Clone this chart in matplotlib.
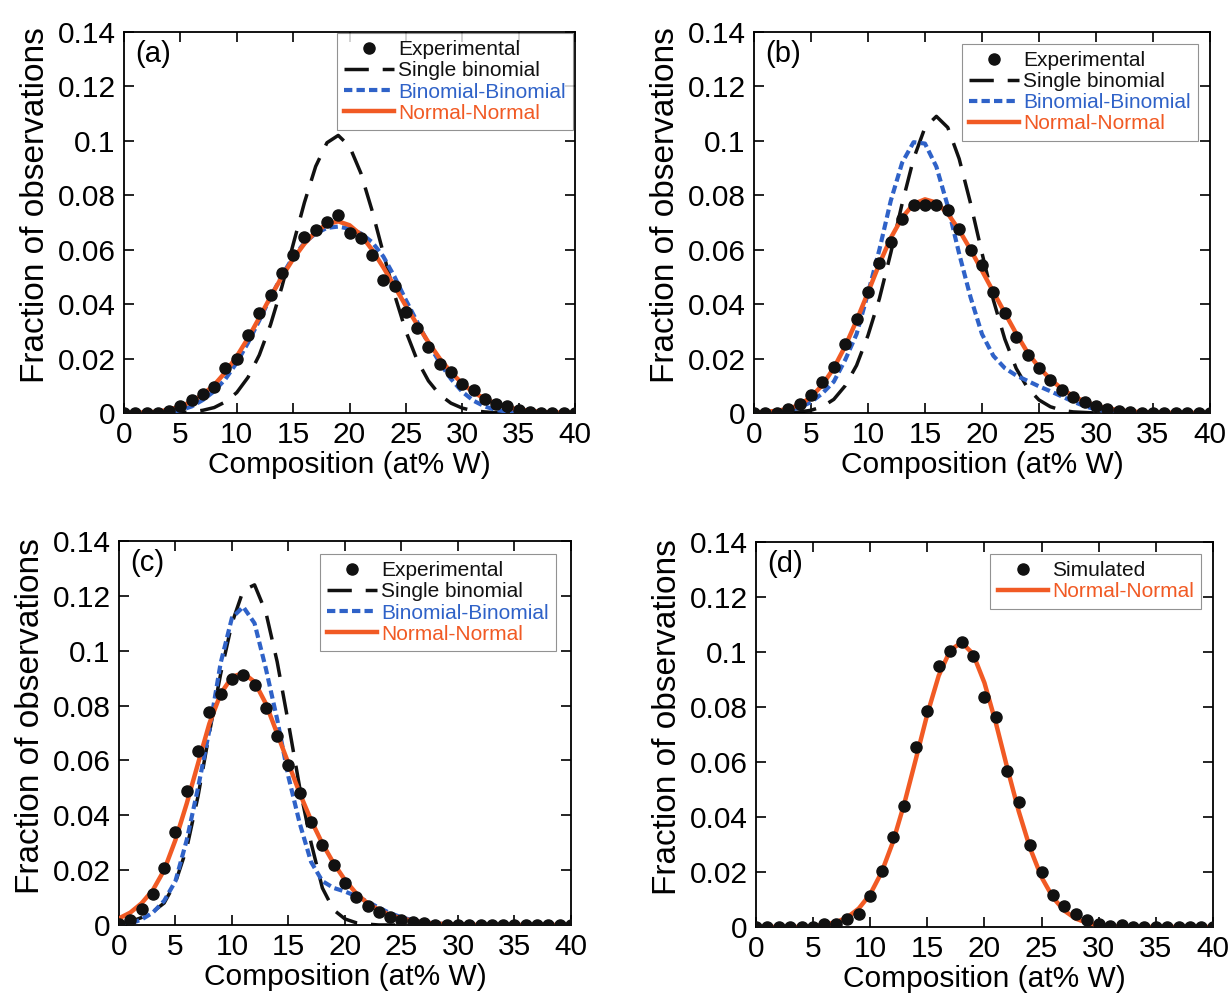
import matplotlib
matplotlib.use('Agg')
import matplotlib.pyplot as plt

plt.rcParams['font.family'] = ['Liberation Sans', 'DejaVu Sans']

comp = list(range(41))

# panel (a)
exp_a = [0, 0, 0, 0, 0.0006, 0.0024, 0.0048, 0.0070, 0.0097, 0.0164,
         0.0197, 0.0286, 0.0368, 0.0433, 0.0513, 0.0582, 0.0647, 0.0672, 0.0702, 0.0727,
         0.0663, 0.0643, 0.0580, 0.0490, 0.0466, 0.0372, 0.0311, 0.0243, 0.0181, 0.0149,
         0.0108, 0.0083, 0.0053, 0.0034, 0.0024, 0.0012, 0.0005, 0, 0, 0, 0]
sb_a = [0, 0, 0, 0, 0, 0.0002, 0.0004, 0.0010, 0.0020, 0.0041,
        0.0075, 0.0131, 0.0213, 0.0325, 0.0463, 0.0619, 0.0773, 0.0906, 0.0993, 0.1020,
        0.0980, 0.0882, 0.0744, 0.0587, 0.0434, 0.0300, 0.0194, 0.0118, 0.0067, 0.0036,
        0.0018, 0.0008, 0.0004, 0.0001, 0, 0, 0, 0, 0, 0, 0]
bb_a = [0, 0, 0, 0, 0.0003, 0.0010, 0.0024, 0.0048, 0.0080, 0.0125,
        0.0185, 0.0258, 0.0340, 0.0425, 0.0505, 0.0573, 0.0625, 0.0660, 0.0680, 0.0685,
        0.0677, 0.0660, 0.0628, 0.0575, 0.0500, 0.0415, 0.0335, 0.0255, 0.0185, 0.0125,
        0.0078, 0.0045, 0.0024, 0.0011, 0.0005, 0.0002, 0, 0, 0, 0, 0]
nn_a = [0, 0.0001, 0.0002, 0.0005, 0.0012, 0.0024, 0.0042, 0.0068, 0.0103, 0.0150,
        0.0208, 0.0275, 0.0350, 0.0427, 0.0500, 0.0566, 0.0622, 0.0666, 0.0694, 0.0704,
        0.0690, 0.0655, 0.0600, 0.0535, 0.0465, 0.0393, 0.0325, 0.0260, 0.0200, 0.0150,
        0.0108, 0.0076, 0.0052, 0.0034, 0.0021, 0.0013, 0.0008, 0.0004, 0.0002, 0.0001, 0]

# panel (b)
exp_b = [0, 0, 0, 0.0013, 0.0032, 0.0065, 0.0114, 0.0169, 0.0253, 0.0345,
         0.0443, 0.0550, 0.0630, 0.0712, 0.0763, 0.0763, 0.0763, 0.0746, 0.0676, 0.0599,
         0.0544, 0.0445, 0.0366, 0.0280, 0.0212, 0.0167, 0.0120, 0.0083, 0.0059, 0.0040,
         0.0025, 0.0015, 0.0007, 0.0004, 0, 0, 0, 0, 0, 0, 0]
sb_b = [0, 0, 0, 0, 0.0004, 0.0010, 0.0023, 0.0050, 0.0100, 0.0175,
        0.0285, 0.0420, 0.0588, 0.0770, 0.0934, 0.1049, 0.1090, 0.1049, 0.0934, 0.0770,
        0.0588, 0.0415, 0.0272, 0.0164, 0.0092, 0.0048, 0.0023, 0.0010, 0.0004, 0.0002,
        0, 0, 0, 0, 0, 0, 0, 0, 0, 0, 0]
bb_b = [0, 0.0002, 0.0004, 0.0009, 0.0020, 0.0040, 0.0072, 0.0115, 0.0195, 0.0290,
        0.0440, 0.0600, 0.0780, 0.0920, 0.0995, 0.0990, 0.0905, 0.0760, 0.0585, 0.0425,
        0.0290, 0.0210, 0.0165, 0.0138, 0.0118, 0.0098, 0.0080, 0.0061, 0.0042, 0.0025,
        0.0013, 0.0006, 0.0003, 0.0001, 0, 0, 0, 0, 0, 0, 0]
nn_b = [0.0002, 0.0004, 0.0008, 0.0015, 0.0030, 0.0058, 0.0103, 0.0165, 0.0245, 0.0340,
        0.0443, 0.0548, 0.0643, 0.0718, 0.0768, 0.0785, 0.0773, 0.0733, 0.0672, 0.0600,
        0.0523, 0.0445, 0.0368, 0.0292, 0.0222, 0.0168, 0.0124, 0.0089, 0.0062, 0.0042,
        0.0027, 0.0017, 0.0010, 0.0006, 0.0003, 0.0002, 0.0001, 0, 0, 0, 0]

# panel (c)
exp_c = [0.0002, 0.0018, 0.0057, 0.0112, 0.0206, 0.0340, 0.0489, 0.0633, 0.0777, 0.0841,
         0.0898, 0.0913, 0.0876, 0.0791, 0.0688, 0.0583, 0.0482, 0.0376, 0.0291, 0.0218,
         0.0154, 0.0103, 0.0070, 0.0049, 0.0028, 0.0018, 0.0010, 0.0006, 0, 0,
         0, 0, 0, 0, 0, 0, 0, 0, 0, 0, 0]
sb_c = [0.0005, 0.0012, 0.0027, 0.0048, 0.0080, 0.0155, 0.0280, 0.0470, 0.0700, 0.0915,
        0.1100, 0.1220, 0.1240, 0.1140, 0.0960, 0.0735, 0.0500, 0.0300, 0.0135, 0.0055,
        0.0022, 0.0008, 0.0003, 0, 0, 0, 0, 0, 0, 0,
        0, 0, 0, 0, 0, 0, 0, 0, 0, 0, 0]
bb_c = [0.0001, 0.0005, 0.0020, 0.0045, 0.0088, 0.0160, 0.0310, 0.0500, 0.0710, 0.0955,
        0.1120, 0.1160, 0.1100, 0.0935, 0.0750, 0.0540, 0.0370, 0.0230, 0.0160, 0.0135,
        0.0122, 0.0105, 0.0085, 0.0063, 0.0043, 0.0028, 0.0017, 0.0010, 0.0006, 0.0003,
        0.0002, 0, 0, 0, 0, 0, 0, 0, 0, 0, 0]
nn_c = [0.0024, 0.0045, 0.0079, 0.0127, 0.0200, 0.0310, 0.0443, 0.0589, 0.0734, 0.0843,
        0.0904, 0.0919, 0.0886, 0.0807, 0.0698, 0.0589, 0.0480, 0.0382, 0.0297, 0.0225,
        0.0164, 0.0115, 0.0079, 0.0055, 0.0036, 0.0024, 0.0015, 0.0009, 0.0005, 0.0003,
        0.0002, 0.0001, 0, 0, 0, 0, 0, 0, 0, 0, 0]

# panel (d)
sim_d = [0, 0, 0, 0, 0, 0, 0.0012, 0.0012, 0.0029, 0.0046,
         0.0112, 0.0203, 0.0328, 0.0441, 0.0653, 0.0787, 0.0948, 0.1003, 0.1037, 0.0987,
         0.0835, 0.0764, 0.0568, 0.0456, 0.0298, 0.0201, 0.0118, 0.0077, 0.0046, 0.0027,
         0.0009, 0.0004, 0.0006, 0, 0, 0, 0, 0, 0, 0, 0]
nn_d = [0, 0, 0, 0, 0, 0.0003, 0.0008, 0.0017, 0.0035, 0.0067,
        0.0119, 0.0199, 0.0310, 0.0451, 0.0611, 0.0774, 0.0914, 0.1006, 0.1035, 0.0993,
        0.0888, 0.0742, 0.0578, 0.0421, 0.0286, 0.0181, 0.0107, 0.0059, 0.0030, 0.0015,
        0.0007, 0.0003, 0.0001, 0, 0, 0, 0, 0, 0, 0, 0]

yticks = [0, 0.02, 0.04, 0.06, 0.08, 0.1, 0.12, 0.14]
ytick_labels = ['0', '0.02', '0.04', '0.06', '0.08', '0.1', '0.12', '0.14']
xticks = [0, 5, 10, 15, 20, 25, 30, 35, 40]

BLACK = '#111111'
BLUE = '#2f62c8'
ORANGE = '#f15a24'


def style_axes(ax, tag):
    ax.set_xlim(0, 40)
    ax.set_ylim(0, 0.14)
    ax.set_xticks(xticks)
    ax.set_yticks(yticks)
    ax.set_yticklabels(ytick_labels)
    ax.tick_params(direction='in', top=True, right=True, length=7, width=1.2,
                   labelsize=21.5, pad=6)
    for s in ax.spines.values():
        s.set_linewidth(1.3)
    ax.set_xlabel('Composition (at% W)', fontsize=21.5, labelpad=1)
    ax.set_ylabel('Fraction of observations', fontsize=24, labelpad=5)
    ax.yaxis.label.set_y(0.545)
    ax.text(0.025, 0.978, tag, transform=ax.transAxes, fontsize=21,
            ha='left', va='top')


def draw_panel(ax, tag, dots, sb, bb, nn, anchor, dot_label='Experimental'):
    handles = []
    h_dot, = ax.plot(comp, dots, 'o', color=BLACK, markersize=8, zorder=5,
                     label=dot_label)
    handles.append(h_dot)
    colors = [BLACK]
    if sb is not None:
        h_sb, = ax.plot(comp, sb, color=BLACK, lw=2.5, dashes=(7, 4), zorder=2,
                        label='Single binomial')
        h_bb, = ax.plot(comp, bb, color=BLUE, lw=3, dashes=(2, 1), zorder=3,
                        label='Binomial-Binomial')
        handles += [h_sb, h_bb]
        colors += [BLACK, BLUE]
    h_nn, = ax.plot(comp, nn, color=ORANGE, lw=3.2, zorder=4, label='Normal-Normal')
    handles.append(h_nn)
    colors.append(ORANGE)
    leg = ax.legend(handles=handles, loc='upper right', bbox_to_anchor=anchor,
                    fontsize=15, frameon=True, fancybox=False, edgecolor='#777777',
                    handlelength=2.4, handletextpad=0.2, labelspacing=0.1,
                    borderpad=0.35, borderaxespad=0)
    leg.get_frame().set_linewidth(0.8)
    for t, c in zip(leg.get_texts(), colors):
        t.set_color(c)
    style_axes(ax, tag)


fig = plt.figure(figsize=(12.3, 9.93), dpi=100)
ax_a = fig.add_axes([0.1008, 0.5841, 0.3667, 0.3837])
ax_b = fig.add_axes([0.6130, 0.5841, 0.3707, 0.3837])
ax_c = fig.add_axes([0.0967, 0.0685, 0.3675, 0.3867])
ax_d = fig.add_axes([0.6146, 0.0665, 0.3715, 0.3877])

draw_panel(ax_a, '(a)', exp_a, sb_a, bb_a, nn_a, (0.996, 0.997))
draw_panel(ax_b, '(b)', exp_b, sb_b, bb_b, nn_b, (0.974, 0.969))
draw_panel(ax_c, '(c)', exp_c, sb_c, bb_c, nn_c, (0.967, 0.966))
draw_panel(ax_d, '(d)', sim_d, None, None, nn_d, (0.974, 0.969), dot_label='Simulated')

fig.savefig('out.png', dpi=100)
